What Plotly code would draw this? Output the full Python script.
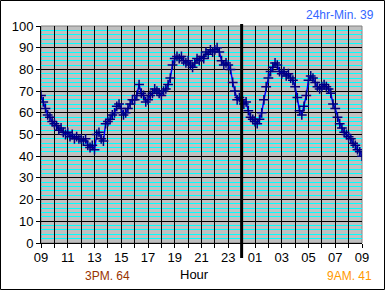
import plotly.graph_objects as go

# hours since 09:00 of day 1 (9 .. 33), sampled every 10 minutes
temps = [
    68, 65, 62, 59, 58, 56,   # 09
    55, 54, 52, 53, 51, 50,   # 10
    51, 49, 50, 48, 49, 48,   # 11
    48, 47, 48, 45, 44, 45,   # 12
    43, 50, 51, 48, 47, 55,   # 13
    56, 57, 59, 60, 63, 64,   # 14
    62, 59, 60, 62, 64, 66,   # 15
    66, 68, 73, 69, 68, 65,   # 16
    66, 68, 69, 71, 70, 69,   # 17
    68, 70, 71, 73, 76, 82,   # 18
    85, 86, 85, 86, 84, 83,   # 19
    84, 82, 81, 83, 85, 84,   # 20
    86, 85, 88, 87, 89, 88,   # 21
    89, 90, 88, 84, 82, 83,   # 22
    82, 80, 74, 70, 66, 67,   # 23
    66, 64, 65, 61, 58, 57,   # 00
    56, 55, 57, 60, 66, 72,   # 01
    76, 79, 81, 83, 82, 79,   # 02
    78, 79, 77, 78, 76, 75,   # 03
    72, 67, 61, 59, 63, 68,   # 04
    75, 77, 76, 74, 72, 71,   # 05
    72, 73, 72, 71, 69, 64,   # 06
    62, 58, 55, 53, 51, 50,   # 07
    49, 48, 46, 45, 43, 42,   # 08
    40,                       # 09
]
hours = [9 + i / 6 for i in range(len(temps))]

tick_hours = list(range(9, 34))
tick_labels = [("%02d" % (h % 24)) if (h - 9) % 2 == 0 else "" for h in tick_hours]
y_ticks = list(range(0, 101, 10))

title_text = "24hr-Min. 39"
max_text = "3PM. 64"
now_text = "9AM. 41"
x_title = "Hour"

W, H = 385, 290
L, R, T, B = 41, 23, 26, 47
PW, PH = W - L - R, H - T - B

def px(x):
    return (x - L) / PW

def py(y):
    return (H - B - y) / PH

fig = go.Figure()
fig.add_trace(go.Scatter(
    x=hours, y=temps, mode="lines+markers",
    line=dict(color="#0000ff", width=1.5),
    marker=dict(symbol="cross-thin", size=7, line=dict(color="#000080", width=1.5), color="#000080"),
    showlegend=False,
))

font = dict(family="Liberation Sans, Arial, sans-serif", size=13, color="black")

fig.update_layout(
    width=W, height=H,
    margin=dict(l=L, r=R, t=T, b=B),
    paper_bgcolor="white",
    plot_bgcolor="#c0c0c0",
    font=font,
    xaxis=dict(
        range=[9, 33], tickmode="array", tickvals=tick_hours, ticktext=tick_labels,
        showgrid=True, gridcolor="black", gridwidth=1,
        showline=True, linecolor="black", linewidth=1,
        ticks="outside", ticklen=4, tickcolor="black",
        zeroline=False, tickfont=font, ticklabelstandoff=-2,
    ),
    yaxis=dict(
        range=[0, 100], tickmode="array", tickvals=y_ticks,
        showgrid=True, gridcolor="black", gridwidth=1,
        showline=True, linecolor="black", linewidth=1,
        ticks="outside", ticklen=4, tickcolor="black",
        zeroline=False, tickfont=font,
        minor=dict(dtick=2, showgrid=True, gridcolor="#00ffff", gridwidth=1, ticks=""),
    ),
)

# gray plot border (top / right)
fig.add_shape(type="rect", xref="paper", yref="paper", x0=0, x1=1, y0=0, y1=1,
              line=dict(color="#808080", width=1), layer="below")
# midnight marker line
fig.add_shape(type="line", xref="x", yref="paper", x0=24, x1=24, y0=py(258), y1=py(24),
              line=dict(color="black", width=3))
# outer border
fig.add_shape(type="rect", xref="paper", yref="paper",
              x0=px(0.5), x1=px(384.5), y0=py(289.5), y1=py(0.5),
              line=dict(color="black", width=1))

ann_font = dict(family="Liberation Sans, Arial, sans-serif", size=12)

def note(x, y, text, color, size=12):
    fig.add_annotation(x=px(x), y=py(y), xref="paper", yref="paper", text=text,
                       xanchor="center", yanchor="middle", showarrow=False,
                       font=dict(family="Liberation Sans, Arial, sans-serif", size=size, color=color))

note(340, 15, title_text, "#3366ff")
note(107, 276, max_text, "#993300")
note(349, 276, now_text, "#ff9900")
note(194, 274, x_title, "black", 13)

fig.write_html("out.html")
